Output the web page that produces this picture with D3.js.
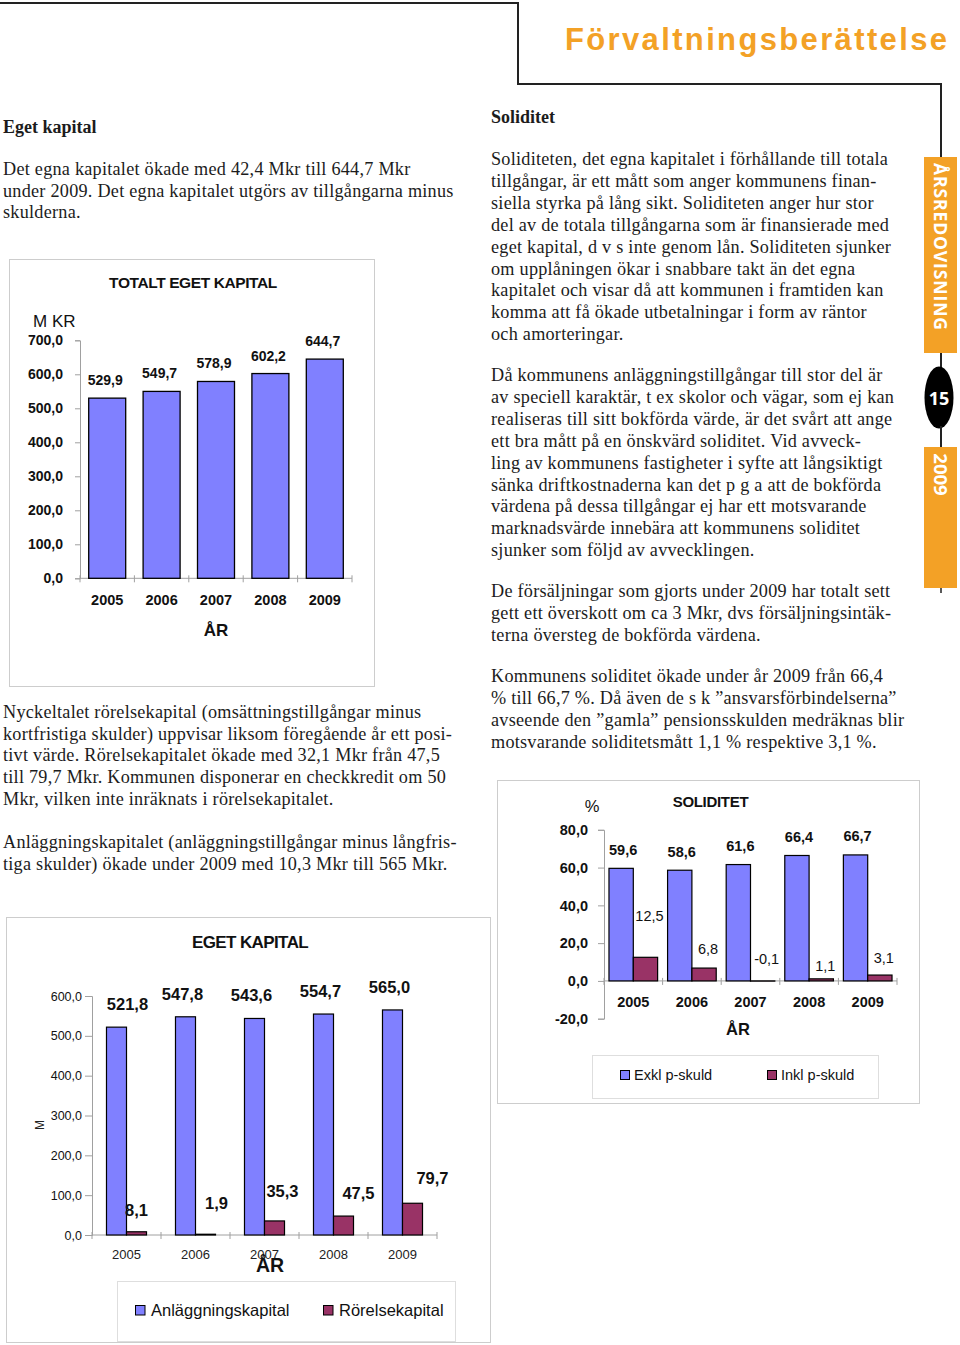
<!DOCTYPE html>
<html>
<head>
<meta charset="utf-8">
<script src="https://cdn.jsdelivr.net/npm/d3@7"></script>
<style>
body { margin: 0; background: #fff; }
svg { display: block; }
</style>
</head>
<body>
<svg id="page" width="960" height="1345"></svg>
<script>
//  Data  //
var years = ["2005", "2006", "2007", "2008", "2009"];
var totaltEgetKapital = [529.9, 549.7, 578.9, 602.2, 644.7];
var soliditetExkl = [59.6, 58.6, 61.6, 66.4, 66.7];
var soliditetInkl = [12.5, 6.8, -0.1, 1.1, 3.1];
var anlaggningskapital = [521.8, 547.8, 543.6, 554.7, 565.0];
var rorelsekapital = [8.1, 1.9, 35.3, 47.5, 79.7];
var ticksTotalt = [0, 100, 200, 300, 400, 500, 600, 700];
var ticksSoliditet = [-20, 0, 20, 40, 60, 80];
var ticksEget = [0, 100, 200, 300, 400, 500, 600];

//  Texts  //
var textEgetKapital = [
  "Det egna kapitalet ökade med 42,4 Mkr till 644,7 Mkr",
  "under 2009. Det egna kapitalet utgörs av tillgångarna minus",
  "skulderna."
];
var textRorelse = [
  "Nyckeltalet rörelsekapital (omsättningstillgångar minus",
  "kortfristiga skulder) uppvisar liksom föregående år ett posi-",
  "tivt värde. Rörelsekapitalet ökade med 32,1 Mkr från 47,5",
  "till 79,7 Mkr. Kommunen disponerar en checkkredit om 50",
  "Mkr, vilken inte inräknats i rörelsekapitalet."
];
var textAnlaggning = [
  "Anläggningskapitalet (anläggningstillgångar minus långfris-",
  "tiga skulder) ökade under 2009 med 10,3 Mkr till 565 Mkr."
];
var textSoliditet1 = [
  "Soliditeten, det egna kapitalet i förhållande till totala",
  "tillgångar, är ett mått som anger kommunens finan-",
  "siella styrka på lång sikt. Soliditeten anger hur stor",
  "del av de totala tillgångarna som är finansierade med",
  "eget kapital, d v s inte genom lån. Soliditeten sjunker",
  "om upplåningen ökar i snabbare takt än det egna",
  "kapitalet och visar då att kommunen i framtiden kan",
  "komma att få ökade utbetalningar i form av räntor",
  "och amorteringar."
];
var textSoliditet2 = [
  "Då kommunens anläggningstillgångar till stor del är",
  "av speciell karaktär, t ex skolor och vägar, som ej kan",
  "realiseras till sitt bokförda värde, är det svårt att ange",
  "ett bra mått på en önskvärd soliditet. Vid avveck-",
  "ling av kommunens fastigheter i syfte att långsiktigt",
  "sänka driftkostnaderna kan det p g a att de bokförda",
  "värdena på dessa tillgångar ej har ett motsvarande",
  "marknadsvärde innebära att kommunens soliditet",
  "sjunker som följd av avvecklingen."
];
var textSoliditet3 = [
  "De försäljningar som gjorts under 2009 har totalt sett",
  "gett ett överskott om ca 3 Mkr, dvs försäljningsintäk-",
  "terna översteg de bokförda värdena."
];
var textSoliditet4 = [
  "Kommunens soliditet ökade under år 2009 från 66,4",
  "% till 66,7 %. Då även de s k ”ansvarsförbindelserna”",
  "avseende den ”gamla” pensionsskulden medräknas blir",
  "motsvarande soliditetsmått 1,1 % respektive 3,1 %."
];

//  Styles  //
var sans = "'Liberation Sans', Arial, sans-serif";
var serif = "'Liberation Serif', 'Times New Roman', serif";
var ink = "#1c1c1c";
var orange = "#f3a126";
var blue = "#8080ff";
var plum = "#993366";
var frame = "#cdcdcd";
var axisGrey = "#a0a0a0";

var sv = d3.formatLocale({decimal: ",", thousands: " ", grouping: [3], currency: ["", " kr"], minus: "-"});
var f1 = sv.format(".1f");

var svg = d3.select("#page");
svg.append("rect").attr("width", 960).attr("height", 1345).attr("fill", "#fff");

//  Header & side bar  //
svg.append("path")
  .attr("d", d3.line()([[0, 3], [518, 3], [518, 84], [941, 84], [941, 157]]))
  .attr("fill", "none").attr("stroke", "#222").attr("stroke-width", 2);
svg.append("text").attr("x", 565).attr("y", 50)
  .attr("font-family", sans).attr("font-weight", "bold").attr("font-size", 31)
  .attr("textLength", 382).attr("lengthAdjust", "spacing")
  .attr("fill", orange).text("Förvaltningsberättelse");

svg.append("rect").attr("x", 924).attr("y", 157).attr("width", 33).attr("height", 196).attr("fill", orange);
svg.append("line").attr("x1", 941).attr("x2", 941).attr("y1", 353).attr("y2", 370).attr("stroke", "#222").attr("stroke-width", 2);
svg.append("ellipse").attr("cx", 939).attr("cy", 397.5).attr("rx", 14.5).attr("ry", 31).attr("fill", "#000");
svg.append("line").attr("x1", 941).attr("x2", 941).attr("y1", 426).attr("y2", 447).attr("stroke", "#222").attr("stroke-width", 2);
svg.append("rect").attr("x", 924).attr("y", 447).attr("width", 33).attr("height", 141).attr("fill", orange);
svg.append("line").attr("x1", 941).attr("x2", 941).attr("y1", 588).attr("y2", 593).attr("stroke", "#222").attr("stroke-width", 1.5);

svg.append("text").attr("transform", "translate(941,246.5) rotate(90)")
  .attr("text-anchor", "middle").attr("dominant-baseline", "central")
  .attr("font-family", "'Open Sans', " + sans).attr("font-weight", "bold").attr("font-size", 17.5)
  .attr("textLength", 167).attr("lengthAdjust", "spacing")
  .attr("fill", "#fff").text("ÅRSREDOVISNING");
svg.append("text").attr("x", 939).attr("y", 397.5)
  .attr("text-anchor", "middle").attr("dominant-baseline", "central")
  .attr("font-family", "'Open Sans', " + sans).attr("font-weight", "bold").attr("font-size", 18)
  .attr("fill", "#fff").text("15");
svg.append("text").attr("transform", "translate(941,474.5) rotate(90)")
  .attr("text-anchor", "middle").attr("dominant-baseline", "central")
  .attr("font-family", "'Open Sans', " + sans).attr("font-weight", "bold").attr("font-size", 18.5)
  .attr("fill", "#fff").text("2009");

//  Body text  //
function heading(x, y, t) {
  svg.append("text").attr("x", x).attr("y", y)
    .attr("font-family", serif).attr("font-weight", "bold").attr("font-size", 18)
    .attr("fill", ink).text(t);
}
function paragraph(x, y0, lines, step) {
  var g = svg.append("g").attr("font-family", serif).attr("font-size", 18.2)
    .attr("letter-spacing", 0.25).attr("fill", ink);
  g.selectAll("text").data(lines).enter().append("text")
    .attr("x", x).attr("y", function(d, i) { return y0 + i * step; })
    .text(function(d) { return d; });
}
heading(3, 133, "Eget kapital");
paragraph(3, 175, textEgetKapital, 21.7);
paragraph(3, 718, textRorelse, 21.7);
paragraph(3, 848, textAnlaggning, 21.7);

heading(491, 123, "Soliditet");
paragraph(491, 165, textSoliditet1, 21.9);
paragraph(491, 381, textSoliditet2, 21.9);
paragraph(491, 597, textSoliditet3, 21.9);
paragraph(491, 682, textSoliditet4, 21.9);

//  Shared axis helpers  //
function styleAxis(g, size, weight) {
  g.attr("font-family", sans).attr("font-size", size).attr("font-weight", weight);
  g.select(".domain").attr("stroke", axisGrey);
  g.selectAll(".tick line").attr("stroke", axisGrey);
  g.selectAll(".tick text").attr("fill", "#111");
}
function categoryLine(g, x, y0) {
  var r = x.range();
  g.append("line").attr("x1", r[0]).attr("x2", r[1]).attr("y1", y0).attr("y2", y0).attr("stroke", axisGrey);
  g.selectAll(".bound").data(d3.range(years.length + 1)).enter().append("line")
    .attr("x1", function(i) { return r[0] + i * x.step(); })
    .attr("x2", function(i) { return r[0] + i * x.step(); })
    .attr("y1", y0 - 3).attr("y2", y0 + 4).attr("stroke", axisGrey);
}

//  Chart 1: TOTALT EGET KAPITAL  //
var c1 = svg.append("g");
c1.append("rect").attr("x", 9.5).attr("y", 259.5).attr("width", 365).attr("height", 427)
  .attr("fill", "#fff").attr("stroke", frame);
c1.append("text").attr("x", 193).attr("y", 288).attr("text-anchor", "middle")
  .attr("font-family", sans).attr("font-weight", "bold").attr("font-size", 15.5).attr("letter-spacing", -0.4)
  .attr("fill", "#111").text("TOTALT EGET KAPITAL");
c1.append("text").attr("x", 33).attr("y", 327)
  .attr("font-family", sans).attr("font-size", 17).attr("fill", "#111").text("M KR");

var c1x = d3.scaleBand().domain(years).range([80, 352]).paddingInner(0.32).paddingOuter(0.16);
var c1y = d3.scaleLinear().domain([0, 700]).range([578.3, 340.3]);

var c1Axis = c1.append("g").attr("transform", "translate(80,0)")
  .call(d3.axisLeft(c1y).tickValues(ticksTotalt).tickFormat(f1).tickSize(5).tickPadding(12));
styleAxis(c1Axis, 14, "bold");
categoryLine(c1, c1x, c1y(0));

c1.selectAll(".bar").data(totaltEgetKapital).enter().append("rect")
  .attr("x", function(d, i) { return c1x(years[i]); })
  .attr("y", function(d) { return c1y(d); })
  .attr("width", c1x.bandwidth())
  .attr("height", function(d) { return c1y(0) - c1y(d); })
  .attr("fill", blue).attr("stroke", "#000").attr("stroke-width", 1.3);
c1.selectAll(".val").data(totaltEgetKapital).enter().append("text")
  .attr("x", function(d, i) { return c1x(years[i]) + c1x.bandwidth() / 2 - 2; })
  .attr("y", function(d) { return c1y(d) - 13; })
  .attr("text-anchor", "middle").attr("font-family", sans).attr("font-weight", "bold").attr("font-size", 14)
  .attr("fill", "#111").text(f1);
c1.selectAll(".yr").data(years).enter().append("text")
  .attr("x", function(d) { return c1x(d) + c1x.bandwidth() / 2; })
  .attr("y", 605).attr("text-anchor", "middle")
  .attr("font-family", sans).attr("font-weight", "bold").attr("font-size", 14.5)
  .attr("fill", "#111").text(function(d) { return d; });
c1.append("text").attr("x", 216).attr("y", 636).attr("text-anchor", "middle")
  .attr("font-family", sans).attr("font-weight", "bold").attr("font-size", 17).attr("fill", "#111").text("ÅR");

//  Chart 2: SOLIDITET  //
var c2 = svg.append("g");
c2.append("rect").attr("x", 497.5).attr("y", 780.5).attr("width", 422).attr("height", 323)
  .attr("fill", "#fff").attr("stroke", frame);
c2.append("text").attr("x", 710.5).attr("y", 806.5).attr("text-anchor", "middle")
  .attr("font-family", sans).attr("font-weight", "bold").attr("font-size", 15).attr("letter-spacing", -0.3)
  .attr("fill", "#111").text("SOLIDITET");
c2.append("text").attr("x", 592).attr("y", 812).attr("text-anchor", "middle")
  .attr("font-family", sans).attr("font-size", 16.5).attr("fill", "#111").text("%");

var c2x = d3.scaleBand().domain(years).range([604, 897]).paddingInner(0.17).paddingOuter(0.085);
var c2sub = d3.scaleBand().domain(["exkl", "inkl"]).range([0, c2x.bandwidth()]);
var c2y = d3.scaleLinear().domain([-20, 80]).range([1018.7, 829.8]);

var c2Axis = c2.append("g").attr("transform", "translate(604,0)")
  .call(d3.axisLeft(c2y).tickValues(ticksSoliditet).tickFormat(f1).tickSize(6).tickPadding(10));
styleAxis(c2Axis, 14.5, "bold");
categoryLine(c2, c2x, c2y(0));

// label nudges (layout only)
var inklLabelDy = [-22, 0, -3, 6, 2];

c2.selectAll(".exkl").data(soliditetExkl).enter().append("rect")
  .attr("x", function(d, i) { return c2x(years[i]) + c2sub("exkl"); })
  .attr("y", function(d) { return Math.min(c2y(d), c2y(0)); })
  .attr("width", c2sub.bandwidth())
  .attr("height", function(d) { return Math.abs(c2y(0) - c2y(d)); })
  .attr("fill", blue).attr("stroke", "#000").attr("stroke-width", 1.2);
c2.selectAll(".inkl").data(soliditetInkl).enter().append("rect")
  .attr("x", function(d, i) { return c2x(years[i]) + c2sub("inkl"); })
  .attr("y", function(d) { return Math.min(c2y(d), c2y(0)); })
  .attr("width", c2sub.bandwidth())
  .attr("height", function(d) { return Math.abs(c2y(0) - c2y(d)); })
  .attr("fill", plum).attr("stroke", "#000").attr("stroke-width", 1.2);
c2.selectAll(".vexkl").data(soliditetExkl).enter().append("text")
  .attr("x", function(d, i) { return c2x(years[i]) + c2sub("exkl") + c2sub.bandwidth() / 2 + 2; })
  .attr("y", function(d) { return c2y(d) - 13.5; })
  .attr("text-anchor", "middle").attr("font-family", sans).attr("font-weight", "bold").attr("font-size", 14.5)
  .attr("fill", "#111").text(f1);
c2.selectAll(".vinkl").data(soliditetInkl).enter().append("text")
  .attr("x", function(d, i) { return c2x(years[i]) + c2sub("inkl") + c2sub.bandwidth() / 2 + 4; })
  .attr("y", function(d, i) { return Math.min(c2y(d), c2y(0)) - 14 + inklLabelDy[i]; })
  .attr("text-anchor", "middle").attr("font-family", sans).attr("font-size", 14.5)
  .attr("fill", "#111").text(f1);
c2.selectAll(".yr").data(years).enter().append("text")
  .attr("x", function(d) { return c2x(d) + c2x.bandwidth() / 2; })
  .attr("y", 1007).attr("text-anchor", "middle")
  .attr("font-family", sans).attr("font-weight", "bold").attr("font-size", 14.5)
  .attr("fill", "#111").text(function(d) { return d; });
c2.append("text").attr("x", 738).attr("y", 1035).attr("text-anchor", "middle")
  .attr("font-family", sans).attr("font-weight", "bold").attr("font-size", 16.5).attr("fill", "#111").text("ÅR");

// legend
c2.append("rect").attr("x", 592.5).attr("y", 1055.5).attr("width", 286).attr("height", 43)
  .attr("fill", "#fff").attr("stroke", "#dedede");
var c2Legend = [["Exkl p-skuld", blue, 620], ["Inkl p-skuld", plum, 767]];
c2.selectAll(".lg").data(c2Legend).enter().append("rect")
  .attr("x", function(d) { return d[2] + 0.5; }).attr("y", 1070.5).attr("width", 9).attr("height", 9)
  .attr("fill", function(d) { return d[1]; }).attr("stroke", "#000");
c2.selectAll(".lgt").data(c2Legend).enter().append("text")
  .attr("x", function(d) { return d[2] + 14; }).attr("y", 1080)
  .attr("font-family", sans).attr("font-size", 14.5).attr("fill", "#111")
  .text(function(d) { return d[0]; });

//  Chart 3: EGET KAPITAL  //
var c3 = svg.append("g");
c3.append("rect").attr("x", 6.5).attr("y", 917.5).attr("width", 484).attr("height", 425)
  .attr("fill", "#fff").attr("stroke", frame);
c3.append("text").attr("x", 250).attr("y", 948).attr("text-anchor", "middle")
  .attr("font-family", sans).attr("font-weight", "bold").attr("font-size", 17).attr("letter-spacing", -0.6)
  .attr("fill", "#111").text("EGET KAPITAL");
c3.append("text").attr("transform", "translate(44,1125) rotate(-90)").attr("text-anchor", "middle")
  .attr("font-family", sans).attr("font-size", 12).attr("fill", "#222").text("M");

var c3x = d3.scaleBand().domain(years).range([92, 437]).paddingInner(0.42).paddingOuter(0.21);
var c3sub = d3.scaleBand().domain(["anl", "ror"]).range([0, c3x.bandwidth()]);
var c3y = d3.scaleLinear().domain([0, 600]).range([1235, 996]);

var c3Axis = c3.append("g").attr("transform", "translate(92,0)")
  .call(d3.axisLeft(c3y).tickValues(ticksEget).tickFormat(f1).tickSize(7).tickPadding(3));
styleAxis(c3Axis, 12.5, "normal");
categoryLine(c3, c3x, c3y(0));

// label nudges (layout only)
var anlLabelDx = [11, -3, -3, -3, -3];
var rorLabelDx = [0, 11, 8, 15, 20];
var rorLabelDy = [0, -9, -8, -1, -3];

c3.selectAll(".anl").data(anlaggningskapital).enter().append("rect")
  .attr("x", function(d, i) { return c3x(years[i]) + c3sub("anl"); })
  .attr("y", function(d) { return c3y(d); })
  .attr("width", c3sub.bandwidth())
  .attr("height", function(d) { return c3y(0) - c3y(d); })
  .attr("fill", blue).attr("stroke", "#000").attr("stroke-width", 1.2);
c3.selectAll(".ror").data(rorelsekapital).enter().append("rect")
  .attr("x", function(d, i) { return c3x(years[i]) + c3sub("ror"); })
  .attr("y", function(d) { return c3y(d); })
  .attr("width", c3sub.bandwidth())
  .attr("height", function(d) { return c3y(0) - c3y(d); })
  .attr("fill", plum).attr("stroke", "#000").attr("stroke-width", 1.2);
c3.selectAll(".vanl").data(anlaggningskapital).enter().append("text")
  .attr("x", function(d, i) { return c3x(years[i]) + c3sub("anl") + c3sub.bandwidth() / 2 + anlLabelDx[i]; })
  .attr("y", function(d) { return c3y(d) - 17; })
  .attr("text-anchor", "middle").attr("font-family", sans).attr("font-weight", "bold").attr("font-size", 16.5)
  .attr("fill", "#111").text(f1);
c3.selectAll(".vror").data(rorelsekapital).enter().append("text")
  .attr("x", function(d, i) { return c3x(years[i]) + c3sub("ror") + c3sub.bandwidth() / 2 + rorLabelDx[i]; })
  .attr("y", function(d, i) { return c3y(d) - 16 + rorLabelDy[i]; })
  .attr("text-anchor", "middle").attr("font-family", sans).attr("font-weight", "bold").attr("font-size", 16.5)
  .attr("fill", "#111").text(f1);
c3.selectAll(".yr").data(years).enter().append("text")
  .attr("x", function(d) { return c3x(d) + c3x.bandwidth() / 2; })
  .attr("y", 1258.5).attr("text-anchor", "middle")
  .attr("font-family", sans).attr("font-size", 13).attr("fill", "#222")
  .text(function(d) { return d; });
c3.append("text").attr("x", 270).attr("y", 1272).attr("text-anchor", "middle")
  .attr("font-family", sans).attr("font-weight", "bold").attr("font-size", 19.5).attr("fill", "#111").text("ÅR");

// legend
c3.append("rect").attr("x", 117.5).attr("y", 1281.5).attr("width", 338).attr("height", 60)
  .attr("fill", "#fff").attr("stroke", "#dedede");
var c3Legend = [["Anläggningskapital", blue, 135], ["Rörelsekapital", plum, 323]];
c3.selectAll(".lg").data(c3Legend).enter().append("rect")
  .attr("x", function(d) { return d[2] + 0.5; }).attr("y", 1305.5).attr("width", 9.5).attr("height", 9.5)
  .attr("fill", function(d) { return d[1]; }).attr("stroke", "#000");
c3.selectAll(".lgt").data(c3Legend).enter().append("text")
  .attr("x", function(d) { return d[2] + 16; }).attr("y", 1315.5)
  .attr("font-family", sans).attr("font-size", 16.5).attr("fill", "#111")
  .text(function(d) { return d[0]; });
</script>
</body>
</html>
